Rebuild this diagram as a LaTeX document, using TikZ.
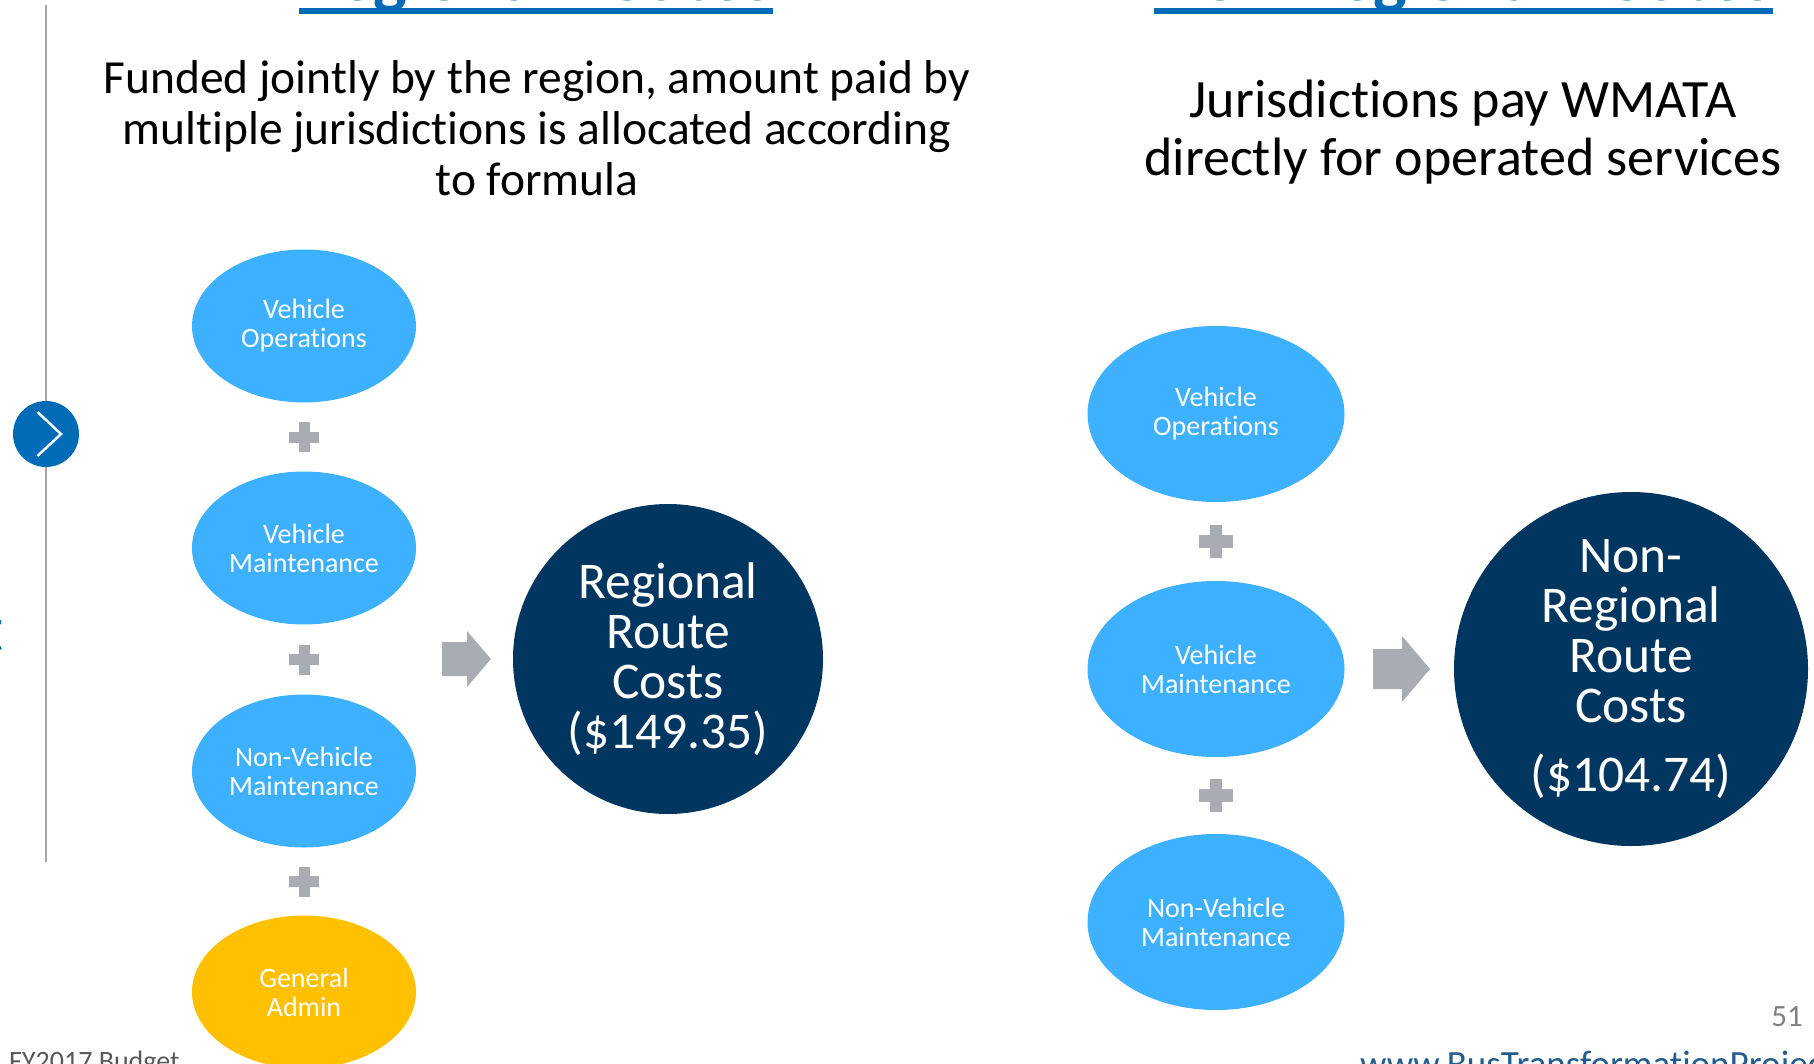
\documentclass[tikz,border=0pt]{standalone}
\usepackage{fontspec}
\setmainfont{Carlito}[Ligatures=NoCommon]
\usetikzlibrary{shapes.geometric,calc}
\definecolor{skyblue}{HTML}{3DB0FF}
\definecolor{navy}{HTML}{00365F}
\definecolor{gold}{HTML}{FFC000}
\definecolor{plusgray}{HTML}{A9ADB3}
\definecolor{titleblue}{HTML}{006BB6}
\definecolor{linegray}{HTML}{A6A6A6}
\definecolor{footgray}{HTML}{595959}
\definecolor{urlblue}{HTML}{235B8E}
\begin{document}
\begin{tikzpicture}[x=1pt, y=-1pt,
		part/.style={ellipse, fill=skyblue, text=white, inner sep=0pt, align=center, font=\fontsize{28}{29}\selectfont},
		partL/.style={part, minimum width=224pt, minimum height=153pt},
		partR/.style={part, minimum width=257pt, minimum height=176pt},
		total/.style={circle, fill=navy, text=white, inner sep=0pt, align=center, font=\fontsize{51.5}{50}\selectfont},
		heading/.style={anchor=base west, inner sep=0pt, text=titleblue, font=\fontsize{71}{71}\selectfont\bfseries},
		blurb/.style={align=center, inner sep=0pt},
		foot/.style={inner sep=0pt},
		plussign/.pic={
			\fill [plusgray] (-15,-5.5) rectangle (15,5.5);
			\fill [plusgray] (-5.5,-15) rectangle (5.5,15);
		}]
		\useasboundingbox (0,0) rectangle (1814,1064);
		
		% side bar with marker
		\draw [linegray, line width=2pt] (46,5) -- (46,862);
		\node [circle, fill=titleblue, minimum size=66pt, inner sep=0pt] (marker) at (46,434) {};
		\draw [white, line width=2.5pt] ([xshift=-8.5pt, yshift=22pt]marker.center) -- ([xshift=15pt]marker.center) -- ([xshift=-8.5pt, yshift=-22pt]marker.center);
		\node [anchor=base east, inner sep=0pt, text=titleblue, font=\fontsize{66}{66}\selectfont] (sidebar) at (4,651) {t};
		
		% headings, cut at the top edge
		\node [heading] (titleL) at (299,1) {Regional Routes};
		\node [heading] (titleR) at (1154,1) {Non-Regional Routes};
		\fill [titleblue] ([yshift=-7pt]titleL.base west) rectangle ([yshift=-13pt]titleL.base east);
		\fill [titleblue] ([yshift=-7pt]titleR.base west) rectangle ([yshift=-13pt]titleR.base east);
		\node [blurb, font=\fontsize{47.5}{51}\selectfont] (blurbL) at (537,128) {Funded jointly by the region, amount paid by\\multiple jurisdictions is allocated according\\to formula};
		\node [blurb, font=\fontsize{54}{58}\selectfont] (blurbR) at (1463,132) {Jurisdictions pay WMATA\\directly for operated services};
		
		% regional column
		\node [partL] (opsL) at (304,326) {Vehicle\\Operations};
		\node [partL] (maintL) at (304,548) {Vehicle\\Maintenance};
		\node [partL] (nonvehL) at (304,771) {Non-Vehicle\\Maintenance};
		\node [partL, fill=gold] (adminL) at (304,992) {General\\Admin};
		\pic at ($(opsL.south)!0.5!(maintL.north)$) {plussign};
		\pic at ($(maintL.south)!0.5!(nonvehL.north)$) {plussign};
		\pic at ($(nonvehL.south)!0.5!(adminL.north)$) {plussign};
		\coordinate (arrL) at (442,659);
		\fill [plusgray] (arrL) ++(0,-17) -- ++(25,0) -- ++(0,-11) -- ++(24,28) -- ++(-24,28) -- ++(0,-11) -- ++(-25,0) -- cycle;
		\node [total, minimum size=310pt] (regional) at (668,659) {Regional\\Route\\Costs\\(\$149.35)};
		
		% non-regional column
		\node [partR] (opsR) at (1216,414) {Vehicle\\Operations};
		\node [partR] (maintR) at (1216,669) {Vehicle\\Maintenance};
		\node [partR] (nonvehR) at (1216,922) {Non-Vehicle\\Maintenance};
		\pic [scale=1.13] at ($(opsR.south)!0.5!(maintR.north)$) {plussign};
		\pic [scale=1.13] at ($(maintR.south)!0.5!(nonvehR.north)$) {plussign};
		\coordinate (arrR) at (1373,669);
		\fill [plusgray] (arrR) ++(0,-20) -- ++(29,0) -- ++(0,-13) -- ++(28,33) -- ++(-28,33) -- ++(0,-13) -- ++(-29,0) -- cycle;
		\node [total, minimum size=354pt] (nonregional) at (1631,669) {Non-\\Regional\\Route\\Costs\\[19pt](\$104.74)};
		
		% footer
		\node [foot, anchor=base west, text=footgray, font=\fontsize{28}{28}\selectfont] (budget) at (9,1070) {FY2017 Budget};
		\node [foot, anchor=base west, text=urlblue, font=\fontsize{37}{37}\selectfont] (url) at (1360,1076) {www.BusTransformationProject.com};
		\node [foot, anchor=base east, text=gray, font=\fontsize{31}{31}\selectfont] (page) at (1803,1026) {51};
	\end{tikzpicture}
\end{document}
